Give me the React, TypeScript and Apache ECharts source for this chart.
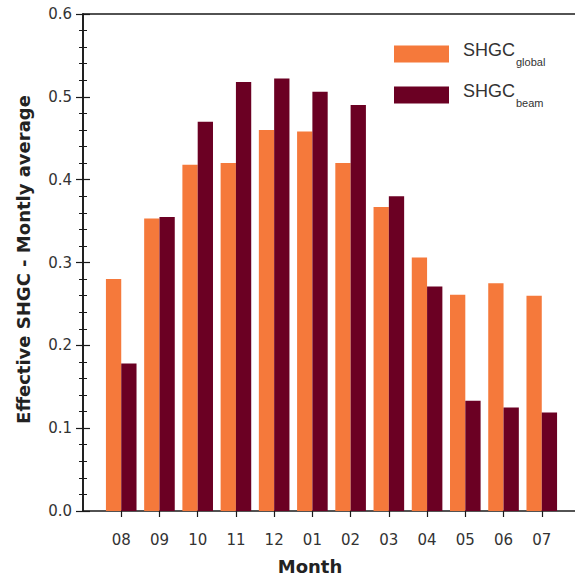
import React, { useEffect, useRef } from "react";
import * as echarts from "echarts";

const months = ["08", "09", "10", "11", "12", "01", "02", "03", "04", "05", "06", "07"];
const positions = [1, 2, 3, 4, 5, 6, 7, 8, 9, 10, 11, 12];
const shgcGlobal = [0.28, 0.353, 0.418, 0.42, 0.46, 0.458, 0.42, 0.367, 0.306, 0.261, 0.275, 0.26];
const shgcBeam = [0.178, 0.355, 0.47, 0.518, 0.522, 0.506, 0.49, 0.38, 0.271, 0.133, 0.125, 0.119];
const yTicks = [0, 0.1, 0.2, 0.3, 0.4, 0.5, 0.6];

const FONT = "Liberation Sans, Arial, sans-serif";
const TICKFONT = "DejaVu Sans, Liberation Sans, sans-serif";
const TITLEFONT = "DejaVu Sans, Liberation Sans, sans-serif";
const AXIS = "#1a1a1a";

export default function App() {
  const ref = useRef<HTMLDivElement>(null);
  useEffect(() => {
    if (!ref.current) return;
    const chart = echarts.init(ref.current, null, { renderer: "svg" });
    const yCommon = {
      type: "value",
      min: yTicks[0],
      max: yTicks[yTicks.length - 1],
      interval: 0.1,
      splitLine: { show: false },
      axisLine: { show: true, lineStyle: { color: AXIS, width: 1.6 } },
      axisTick: { show: true, inside: true, length: 7, lineStyle: { color: AXIS, width: 1.2 } },
      minorTick: { show: true, splitNumber: 5, length: 4, lineStyle: { color: AXIS, width: 1 } },
    };
    chart.setOption({
      animation: false,
      textStyle: { fontFamily: FONT },
      grid: { left: 83, top: 14, width: 497, height: 497, containLabel: false, outerBoundsMode: "none" },
      legend: {
        left: 394,
        top: 41,
        padding: 0,
        orient: "vertical",
        itemWidth: 55,
        itemHeight: 17,
        itemGap: 15,
        icon: "rect",
        selectedMode: false,
        formatter: (name: string) =>
          name === "global" ? "{a|SHGC}{b|global}" : "{a|SHGC}{b|beam}",
        textStyle: {
          padding: [0, 0, 0, 9],
          rich: {
            a: { fontSize: 18, fontFamily: FONT, color: "#333", verticalAlign: "top", lineHeight: 26 },
            b: { fontSize: 11, fontFamily: FONT, color: "#333", verticalAlign: "bottom", lineHeight: 14, padding: [0, 0, 0, 1] },
          },
        },
        data: ["global", "beam"],
      },
      xAxis: [
        {
          type: "value",
          min: 0,
          max: 13,
          interval: 1,
          splitLine: { show: false },
          axisLine: { show: true, onZero: false, lineStyle: { color: AXIS, width: 1.6 } },
          axisTick: { show: true, inside: false, length: 6, customValues: positions, lineStyle: { color: AXIS, width: 1.2 } },
          axisLabel: {
            customValues: positions,
            margin: 21,
            fontSize: 15,
            color: "#333",
            fontFamily: TICKFONT,
            formatter: (v: number) => months[Math.round(v) - 1] ?? "",
          },
          name: "Month",
          nameLocation: "middle",
          nameGap: 46,
          nameTextStyle: {
            fontSize: 18,
            fontWeight: "bold",
            color: "#222",
            fontFamily: TITLEFONT,
            padding: [0, 43, 0, 0],
          },
        },
        {
          type: "value",
          position: "top",
          min: 0,
          max: 13,
          splitLine: { show: false },
          axisLine: { show: true, onZero: false, lineStyle: { color: AXIS, width: 1.6 } },
          axisTick: { show: false },
          axisLabel: { show: false },
        },
      ],
      yAxis: [
        {
          ...yCommon,
          position: "left",
          axisLabel: {
            margin: 11,
            fontSize: 15,
            color: "#333",
            fontFamily: TICKFONT,
            formatter: (v: number) => v.toFixed(1),
          },
          name: "Effective SHGC - Montly average",
          nameLocation: "middle",
          nameGap: 51,
          nameTextStyle: {
            fontSize: 18,
            fontWeight: "bold",
            color: "#222",
            fontFamily: TITLEFONT,
            padding: [0, 0, 0, 6],
          },
        },
        {
          ...yCommon,
          position: "right",
          axisLabel: { show: false },
        },
      ],
      series: [
        {
          name: "global",
          type: "bar",
          barWidth: 15.3,
          barGap: "0%",
          itemStyle: { color: "#F5793B" },
          data: positions.map((p, i) => [p, shgcGlobal[i]]),
        },
        {
          name: "beam",
          type: "bar",
          barWidth: 15.3,
          barGap: "0%",
          itemStyle: { color: "#6B0023" },
          data: positions.map((p, i) => [p, shgcBeam[i]]),
        },
      ],
    });
    return () => chart.dispose();
  }, []);
  return <div ref={ref} style={{ width: 575, height: 577, position: "absolute", left: 0, top: 0 }} />;
}
